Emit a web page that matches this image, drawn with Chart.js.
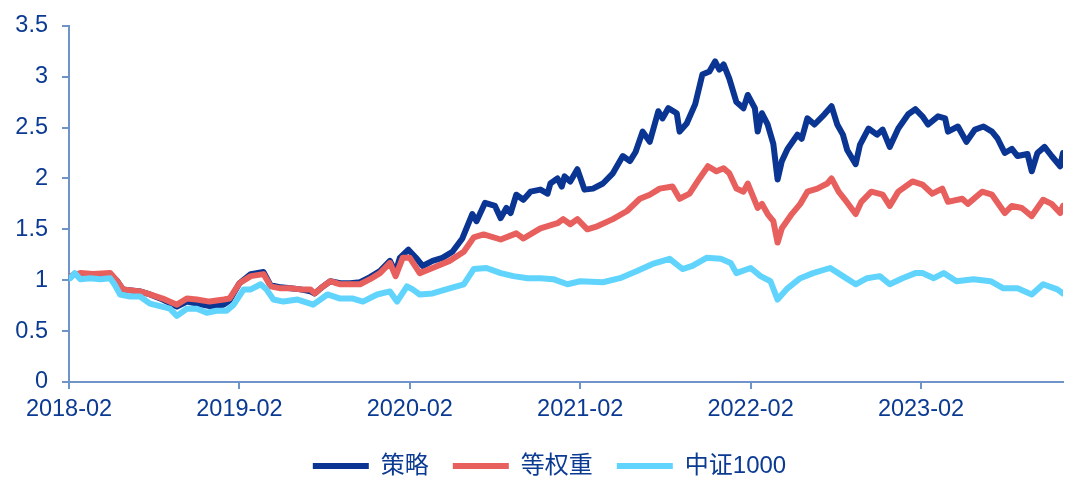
<!DOCTYPE html>
<html>
<head>
<meta charset="utf-8">
<script src="https://cdn.jsdelivr.net/npm/chart.js@4.4.0/dist/chart.umd.min.js"></script>
<style>
	html, body { margin: 0; padding: 0; background: #fff; }
	#wrap { width: 1080px; height: 489px; }
</style>
</head>
<body>
<div id="wrap"><canvas id="navChart"></canvas></div>
<script>
// x values are months counted from 2018-02
const seriesNames = ["策略", "等权重", "中证1000"];
const firstYear = 2018;

const strategyX = [0.1, 0.4, 1.1, 2.2, 2.9, 3.4, 3.8, 5.0, 5.7, 6.6, 7.6, 8.3, 9.0, 9.9, 10.9, 11.3, 12.0, 12.8, 13.7, 14.2, 14.9, 15.6, 16.3, 17.0, 17.3, 17.9, 18.4, 19.1, 19.8, 20.5, 21.2, 21.9, 22.6, 23.0, 23.3, 23.9, 24.5, 24.9, 25.6, 26.3, 27.0,
	27.7, 28.4, 28.7, 29.3, 30.0, 30.4, 30.8, 31.1, 31.5, 32.0, 32.5, 33.2, 33.7, 33.9, 34.4, 34.7, 34.9, 35.3, 35.8, 36.3, 36.9, 37.6, 38.3, 39.0, 39.5, 39.9, 40.4, 40.9, 41.5, 41.8, 42.2, 42.8, 43.0, 43.5, 44.1, 44.6, 45.1, 45.5, 45.8, 46.1, 46.5, 47.0, 47.5, 47.8,
	48.3, 48.5, 48.8, 49.2, 49.6, 49.9, 50.2, 50.6, 51.3, 51.6, 52.0, 52.5, 53.2, 53.7, 54.1, 54.5, 54.8, 55.4, 55.7, 56.3, 56.9, 57.3, 57.8, 58.4, 59.1, 59.6, 60.1, 60.5, 61.2, 61.7, 61.9, 62.6, 63.2, 63.8, 64.4, 65.0, 65.4, 65.9, 66.4, 66.8, 67.5, 67.8, 68.2, 68.7, 69.2, 69.8, 70.0];
const strategyY = [1.03, 1.06, 1.05, 1.06, 1.06, 0.99, 0.91, 0.89, 0.86, 0.81, 0.74, 0.79, 0.77, 0.745, 0.76, 0.80, 0.97, 1.06, 1.08, 0.95, 0.93, 0.92, 0.91, 0.89, 0.87, 0.94, 0.99, 0.97, 0.97, 0.98, 1.03, 1.09, 1.19, 1.08, 1.22, 1.30, 1.21, 1.14, 1.19, 1.22, 1.28,
	1.41, 1.65, 1.58, 1.76, 1.73, 1.61, 1.71, 1.66, 1.84, 1.79, 1.87, 1.89, 1.85, 1.95, 2.00, 1.92, 2.02, 1.97, 2.09, 1.89, 1.90, 1.95, 2.05, 2.22, 2.17, 2.26, 2.46, 2.36, 2.66, 2.59, 2.69, 2.64, 2.46, 2.54, 2.73, 3.02, 3.05, 3.15, 3.07, 3.12, 2.98, 2.75, 2.69, 2.82,
	2.69, 2.46, 2.64, 2.53, 2.34, 1.99, 2.17, 2.29, 2.43, 2.39, 2.59, 2.53, 2.63, 2.71, 2.53, 2.43, 2.28, 2.14, 2.33, 2.49, 2.43, 2.48, 2.31, 2.49, 2.63, 2.68, 2.61, 2.53, 2.61, 2.59, 2.46, 2.51, 2.36, 2.48, 2.51, 2.46, 2.39, 2.25, 2.29, 2.22, 2.24, 2.07, 2.25, 2.31, 2.22, 2.12, 2.25];

const equalX = [0.1, 0.8, 1.7, 2.9, 3.4, 3.8, 5.0, 5.7, 6.6, 7.6, 8.3, 9.0, 9.9, 10.9, 11.3, 12.0, 12.8, 13.7, 14.2, 14.9, 15.6, 16.3, 17.0, 17.3, 17.9, 18.4, 19.1, 19.8, 20.5, 21.2, 21.9, 22.6, 23.0, 23.5, 24.0, 24.7, 25.6, 26.8, 27.8,
	28.5, 29.2, 30.4, 31.5, 32.0, 33.2, 34.4, 34.8, 35.3, 35.8, 36.5, 37.2, 38.3, 39.3, 40.2, 40.9, 41.6, 42.5, 43.0, 43.7, 44.4, 45.0, 45.6, 46.1, 46.5, 47.0, 47.5, 47.8,
	48.5, 48.8, 49.2, 49.6, 49.9, 50.2, 50.9, 51.5, 52.0, 52.7, 53.4, 53.7, 54.2, 54.6, 55.4, 55.8, 56.5, 57.3, 57.8, 58.4, 59.4, 60.1, 60.8, 61.5, 61.9, 62.9, 63.3, 64.3, 65.0, 65.9, 66.4, 67.1, 67.8, 68.6, 69.2, 69.8, 70.0];
const equalY = [1.04, 1.07, 1.06, 1.07, 0.99, 0.91, 0.89, 0.86, 0.82, 0.76, 0.82, 0.81, 0.79, 0.81, 0.82, 0.97, 1.04, 1.06, 0.94, 0.92, 0.92, 0.91, 0.91, 0.87, 0.94, 0.99, 0.96, 0.96, 0.96, 1.01, 1.07, 1.17, 1.04, 1.22, 1.22, 1.07, 1.12, 1.19, 1.28,
	1.42, 1.45, 1.40, 1.46, 1.41, 1.51, 1.56, 1.60, 1.55, 1.60, 1.50, 1.53, 1.60, 1.68, 1.80, 1.84, 1.90, 1.92, 1.80, 1.85, 2.00, 2.12, 2.07, 2.10, 2.05, 1.90, 1.87, 1.95,
	1.71, 1.75, 1.65, 1.58, 1.37, 1.51, 1.65, 1.75, 1.87, 1.90, 1.95, 2.00, 1.87, 1.80, 1.65, 1.77, 1.87, 1.84, 1.73, 1.87, 1.97, 1.94, 1.85, 1.90, 1.77, 1.80, 1.75, 1.87, 1.84, 1.66, 1.73, 1.71, 1.63, 1.79, 1.75, 1.66, 1.73];

const csi1000X = [0.1, 0.4, 0.8, 1.5, 2.2, 2.9, 3.2, 3.6, 4.3, 5.0, 5.7, 6.4, 7.1, 7.6, 8.3, 9.0, 9.7, 10.4, 11.1, 11.6, 12.3, 12.8, 13.5, 13.9, 14.4, 15.1, 16.1, 17.2, 18.2, 19.1, 20.0, 20.7, 21.7, 22.6, 23.1, 23.8, 24.2, 24.7, 25.6, 26.8, 27.8, 28.5, 29.4, 30.4, 31.3, 32.3, 33.2, 34.1, 35.1, 36.0, 37.6, 38.8, 40.0, 41.1, 42.3, 43.2, 43.9, 44.9, 45.9, 46.6, 47.0, 48.0, 48.7, 49.4, 49.9, 50.6, 51.5, 52.4, 53.6, 54.5, 55.4, 56.2, 57.1, 57.8, 58.7, 59.6, 60.1, 60.9, 61.6, 62.5, 63.7, 64.9, 65.8, 66.8, 67.8, 68.6, 69.6, 70.0];
const csi1000Y = [1.02, 1.07, 1.01, 1.02, 1.01, 1.02, 0.96, 0.86, 0.84, 0.84, 0.77, 0.745, 0.72, 0.65, 0.72, 0.72, 0.68, 0.70, 0.70, 0.76, 0.91, 0.91, 0.96, 0.91, 0.81, 0.79, 0.81, 0.76, 0.86, 0.82, 0.82, 0.79, 0.86, 0.89, 0.79, 0.94, 0.91, 0.86, 0.87, 0.92, 0.96, 1.11, 1.12, 1.07, 1.04, 1.02, 1.02, 1.01, 0.96, 0.99, 0.98, 1.02, 1.09, 1.16, 1.21, 1.11, 1.14, 1.22, 1.21, 1.17, 1.07, 1.12, 1.04, 0.99, 0.81, 0.92, 1.02, 1.07, 1.12, 1.04, 0.96, 1.02, 1.04, 0.96, 1.02, 1.07, 1.07, 1.02, 1.07, 0.99, 1.01, 0.99, 0.92, 0.92, 0.86, 0.96, 0.91, 0.87];

const axisColor = "#6E94CA";
const textColor = "#0B3A92";
const fontFamily = 'Arial, "Liberation Sans", "Noto Sans CJK SC", sans-serif';

const toPoints = (xs, ys) => xs.map((x, i) => ({ x: x, y: ys[i] }));

function makeSet(label, xs, ys, color, order) {
	return {
		label: label,
		data: toPoints(xs, ys),
		borderColor: color,
		backgroundColor: color,
		borderWidth: 6,
		borderJoinStyle: "round",
		borderCapStyle: "round",
		pointRadius: 0,
		pointStyle: "line",
		tension: 0,
		order: order
	};
}

// the legend sits a little right of the page centre
const legendShift = {
	id: "legendShift",
	afterLayout(chart) {
		chart.legend.left += 18;
		chart.legend.right += 18;
	}
};

Chart.defaults.font.family = fontFamily;

new Chart(
	document.getElementById("navChart"),
	{
		type: "line",
		data: {
			datasets: [
				makeSet(seriesNames[0], strategyX, strategyY, "#0A3592", 3),
				makeSet(seriesNames[1], equalX, equalY, "#E8605E", 2),
				makeSet(seriesNames[2], csi1000X, csi1000Y, "#60D4FD", 1)
			]
		},
		options: {
			responsive: true,
			maintainAspectRatio: false,
			animation: false,
			layout: {
				padding: { top: 0, right: 17, left: 0, bottom: 1 }
			},
			scales: {
				x: {
					type: "linear",
					min: 0,
					max: 70,
					grid: { drawOnChartArea: false, color: axisColor, lineWidth: 2, tickLength: 7 },
					border: { color: axisColor, width: 2 },
					ticks: {
						stepSize: 12,
						includeBounds: false,
						maxRotation: 0,
						color: textColor,
						font: { size: 23.5 },
						padding: 6,
						callback: v => `${firstYear + v / 12}-02`
					},
					afterFit: s => { s.height = 48; }
				},
				y: {
					min: 0,
					max: 3.5,
					grid: { drawOnChartArea: false, color: axisColor, lineWidth: 2, tickLength: 7 },
					border: { color: axisColor, width: 2 },
					ticks: {
						stepSize: 0.5,
						color: textColor,
						font: { size: 23.5, lineHeight: 1 },
						padding: 14,
						callback: v => String(v)
					},
					afterFit: s => { s.width = 69; }
				}
			},
			plugins: {
				legend: {
					position: "bottom",
					labels: {
						usePointStyle: true,
						pointStyle: "line",
						pointStyleWidth: 56,
						color: textColor,
						font: { size: 24 },
						padding: 24,
						sort: (a, b) => a.datasetIndex - b.datasetIndex
					}
				},
				tooltip: { enabled: false }
			}
		},
		plugins: [legendShift]
	}
)
</script>
</body>
</html>
